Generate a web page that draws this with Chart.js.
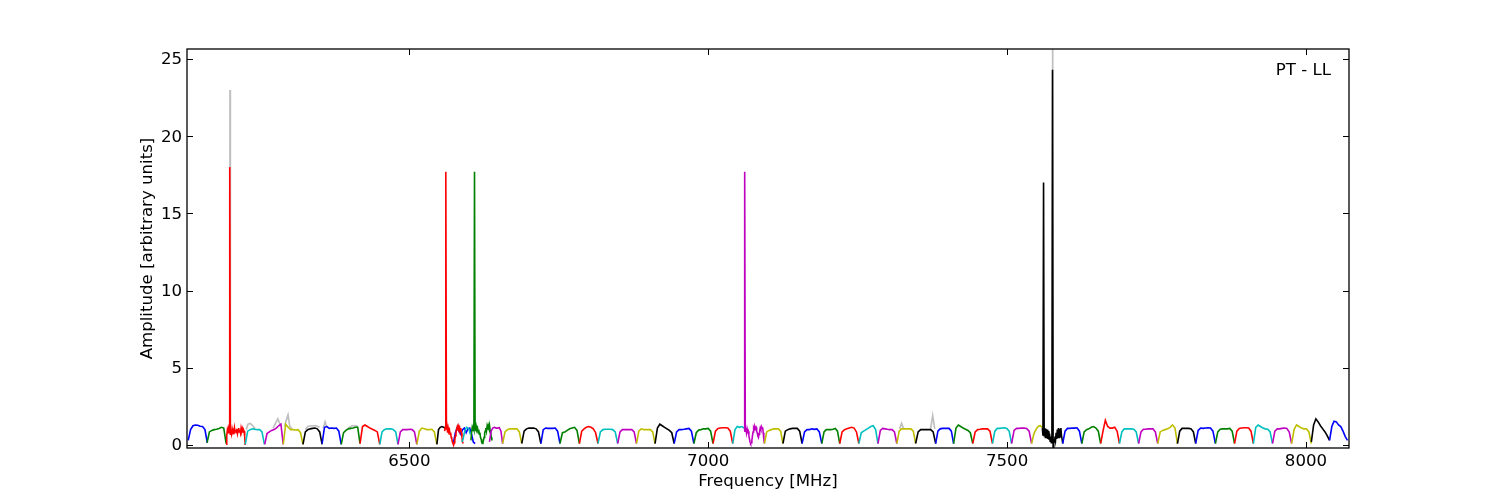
<!DOCTYPE html>
<html>
<head>
<meta charset="utf-8">
<script src="https://cdn.jsdelivr.net/npm/chart.js@4.4.1/dist/chart.umd.min.js"></script>
<style>
  html, body { margin: 0; padding: 0; background: #ffffff; }
  #wrap { width: 1500px; height: 500px; }
</style>
</head>
<body>
<div id="wrap"><canvas id="c" width="1500" height="500"></canvas></div>
<script>
// ---------------- data ----------------
const xTicks = [6500, 7000, 7500, 8000];
const yTicks = [0, 5, 10, 15, 20, 25];
const panelLabel = 'PT - LL';

// start frequency (MHz) and width (MHz) of each sub-band
const bandStart = [
  6130, 6161.5, 6193.5, 6225.5, 6258, 6289, 6322, 6354, 6386, 6417.5,
  6450.5, 6481, 6512.5, 6546, 6574, 6603, 6559, 6588, 6634, 6656,
  6688, 6720, 6752, 6784.5, 6815.5, 6848.5, 6880, 6911, 6943, 6976,
  7008, 7041, 7060, 7094, 7125, 7157, 7190, 7220, 7252, 7284,
  7315.5, 7347, 7380.5, 7410.5, 7442.5, 7475.5, 7507.5, 7541, 7559, 7593,
  7625, 7656.5, 7688, 7720, 7752, 7785, 7815.5, 7848.5, 7880.5, 7912,
  7944, 7976, 8009, 8039.5
];
const bandWidth = [
  32, 32, 32, 32, 31, 33, 32, 32, 31.5, 33,
  30.5, 31.5, 33.5, 14, 36, 35, 31, 14, 22, 32,
  32, 32, 32.5, 31, 33, 31.5, 31, 32, 33, 32,
  33, 19, 34, 31, 32, 33, 30, 32, 32, 31.5,
  31.5, 33.5, 30, 32, 33, 32, 33.5, 18, 34, 32,
  31.5, 31.5, 32, 32, 33, 30.5, 33, 32, 31.5, 32,
  32, 33, 30.5, 30
];
// amplitudes across each sub-band (evenly spaced channels)
const bandAmp = [
  [0.3, 1.0, 1.25, 1.3, 1.28, 1.22, 1.2, 1.0, 0.15],
  [0.15, 0.85, 0.95, 1.0, 1.03, 1.08, 1.15, 1.1, 0.1],
  [0.05, 0.6, 0.95, 0.75, 1.05, 0.8, 18.0, 0.7, 1.0, 0.75, 1.05, 0.85, 0.95, 0.7, 1.1, 0.85, 1.0,
   0.8, 1.05, 0.75, 0.95, 1.1, 0.85, 1.0, 0.8, 1.1, 0.9, 1.05, 0.8, 1.0, 0.9, 0.55, 0.0],
  [0.05, 0.9, 1.0, 1.05, 1.02, 1.0, 1.0, 0.85, 0.05],
  [0.05, 0.75, 0.85, 0.95, 1.0, 1.1, 1.25, 1.35, 0.05],
  [0.05, 1.35, 1.15, 1.0, 1.0, 0.98, 1.0, 0.8, 0.05],
  [0.05, 0.85, 1.0, 1.05, 1.08, 1.1, 1.05, 0.85, 0.05],
  [0.1, 1.15, 1.2, 1.08, 1.1, 1.08, 1.1, 0.9, 0.05],
  [0.05, 0.8, 0.95, 1.05, 1.08, 1.1, 1.15, 1.15, 0.1],
  [0.1, 1.2, 1.3, 1.2, 1.1, 1.02, 0.95, 0.85, 0.05],
  [0.05, 0.85, 1.0, 1.05, 1.05, 1.05, 1.0, 0.85, 0.05],
  [0.05, 0.85, 1.0, 1.0, 1.0, 1.02, 1.0, 0.85, 0.05],
  [0.05, 0.9, 1.1, 1.05, 1.0, 1.0, 1.02, 0.85, 0.05],
  [0.05, 1.0, 1.15, 1.2, 1.15, 1.1],
  [0.2, 0.8, 1.1, 0.9, 0.7, 1.0, 1.1, 0.8, 1.05, 1.1, 0.7, 0.2, 0.1],
  [0.3, 0.8, 1.1, 0.9, 1.15, 1.0, 17.7, 1.1, 0.9, 1.2, 1.0, 1.1, 0.8, 1.0, 0.7, 0.8, 0.5, 0.4,
   0.2, 0.1, 0.15, 0.3, 0.5, 0.8, 0.9, 1.1, 0.9, 1.2, 1.0, 1.25, 1.1, 1.3, 1.0, 0.8, 0.5, 0.3],
  [0.9, 1.15, 17.7, 1.0, 1.2, 0.8, 1.1, 0.9, 1.0, 0.7, 0.8, 0.5, 0.4, 0.2, 0.1, 0.0,
   0.15, 0.3, 0.6, 0.8, 1.0, 1.15, 0.95, 1.2, 1.05, 1.15, 0.9, 1.1, 0.8, 0.5, 0.2, 0.1],
  [0.2, 0.4, 0.8, 1.05, 1.15, 1.1, 1.0, 0.7],
  [0.2, 0.9, 1.1, 1.15, 1.1, 1.1, 1.12, 0.9, 0.1],
  [0.1, 0.85, 1.0, 1.05, 1.05, 1.05, 1.05, 0.85, 0.1],
  [0.1, 0.9, 1.05, 1.1, 1.1, 1.1, 1.05, 0.85, 0.1],
  [0.1, 1.0, 1.1, 1.08, 1.08, 1.08, 1.1, 0.9, 0.1],
  [0.1, 0.8, 0.85, 0.95, 1.05, 1.1, 1.15, 0.95, 0.1],
  [0.1, 0.9, 1.05, 1.15, 1.2, 1.15, 1.05, 0.8, 0.1],
  [0.1, 0.85, 1.0, 1.02, 1.02, 1.02, 1.0, 0.85, 0.1],
  [0.1, 0.85, 1.0, 1.0, 1.0, 1.0, 1.0, 0.85, 0.1],
  [0.1, 0.9, 1.05, 1.0, 1.0, 1.0, 1.0, 0.85, 0.1],
  [0.1, 1.1, 1.35, 1.25, 1.15, 1.05, 0.95, 0.8, 0.1],
  [0.1, 0.85, 1.0, 1.0, 1.02, 1.05, 1.08, 0.9, 0.1],
  [0.1, 0.8, 0.97, 1.0, 1.05, 1.05, 1.08, 0.9, 0.1],
  [0.1, 0.9, 1.08, 1.1, 1.12, 1.12, 1.1, 0.9, 0.1],
  [0.1, 1.0, 1.2, 1.15, 1.2, 1.1],
  [0.9, 17.7, 1.0, 1.1, 0.8, 1.05, 0.85, 0.9, 0.6, 0.4, 0.2, 0.1, 0.15, 0.3, 0.6, 0.85, 1.1,
   1.0, 1.2, 1.1, 1.15, 0.9, 0.8, 0.6, 0.5, 0.7, 0.9, 1.1, 1.0, 1.2, 1.1, 1.15, 0.8, 0.4, 0.1],
  [0.1, 0.85, 0.95, 1.0, 1.05, 1.05, 1.05, 0.9, 0.1],
  [0.1, 0.9, 1.0, 1.05, 1.08, 1.08, 1.08, 0.9, 0.1],
  [0.1, 0.85, 1.0, 1.0, 1.05, 1.02, 1.05, 0.85, 0.1],
  [0.1, 0.85, 1.0, 1.0, 1.0, 1.02, 1.08, 0.9, 0.1],
  [0.1, 0.85, 1.0, 1.05, 1.1, 1.15, 1.1, 0.85, 0.1],
  [0.1, 0.8, 0.9, 1.0, 1.1, 1.2, 1.25, 1.0, 0.1],
  [0.1, 0.95, 1.08, 1.05, 1.02, 1.0, 1.0, 0.85, 0.1],
  [0.1, 0.9, 1.05, 1.05, 1.05, 1.05, 1.05, 0.9, 0.1],
  [0.1, 0.85, 1.0, 1.0, 1.0, 1.0, 1.0, 0.85, 0.1],
  [0.1, 0.9, 1.05, 1.08, 1.08, 1.08, 1.08, 0.9, 0.1],
  [0.1, 1.1, 1.3, 1.2, 1.1, 1.02, 0.95, 0.8, 0.1],
  [0.1, 0.85, 1.0, 1.02, 1.05, 1.05, 1.05, 0.9, 0.1],
  [0.1, 0.9, 1.08, 1.08, 1.1, 1.12, 1.08, 0.9, 0.1],
  [0.1, 0.95, 1.08, 1.08, 1.1, 1.1, 1.08, 0.9, 0.1],
  [0.1, 0.7, 1.0, 1.2, 1.25, 1.15],
  [1.1, 0.6, 17.0, 0.6, 1.1, 0.5, 1.05, 0.45, 1.0, 0.4, 0.9, 0.35, 0.75, 0.25, 0.55, 0.15, 0.3,
   24.3, -0.19, 0.3, 0.2, 0.55, 0.3, 0.8, 0.4, 1.0, 0.45, 1.1, 0.5, 1.05, 0.55, 1.1, 0.6, 0.4, 0.1],
  [0.1, 0.9, 1.08, 1.08, 1.1, 1.1, 1.12, 0.9, 0.1],
  [0.1, 0.85, 1.0, 1.05, 1.15, 1.2, 1.1, 0.9, 0.1],
  [0.1, 0.9, 1.6, 1.2, 1.1, 1.1, 1.15, 0.9, 0.1],
  [0.1, 0.85, 1.05, 1.05, 1.05, 1.05, 1.02, 0.85, 0.1],
  [0.1, 0.85, 1.02, 1.02, 1.05, 1.05, 1.05, 0.85, 0.1],
  [0.1, 0.85, 0.95, 1.0, 1.05, 1.15, 1.3, 1.1, 0.1],
  [0.1, 0.9, 1.08, 1.08, 1.08, 1.08, 1.05, 0.85, 0.1],
  [0.1, 0.95, 1.1, 1.08, 1.1, 1.12, 1.1, 0.9, 0.1],
  [0.1, 0.85, 1.02, 1.05, 1.05, 1.05, 1.08, 0.9, 0.1],
  [0.1, 0.9, 1.08, 1.1, 1.12, 1.12, 1.1, 0.9, 0.1],
  [0.1, 1.15, 1.3, 1.2, 1.1, 1.05, 1.02, 0.85, 0.1],
  [0.1, 0.9, 1.05, 1.05, 1.08, 1.1, 1.08, 0.85, 0.1],
  [0.1, 1.0, 1.3, 1.2, 1.1, 1.05, 1.05, 0.85, 0.1],
  [0.2, 1.3, 1.7, 1.5, 1.25, 1.05, 0.85, 0.6, 0.3],
  [0.3, 1.2, 1.55, 1.5, 1.3, 1.2, 0.9, 0.55, 0.3]
];
// unflagged (raw) spectrum where it differs, drawn in grey behind (null = gap)
const grayFreq = [
  6199.5, 6200, 6200.5, null,
  6227, 6230, 6234, 6238, 6242, null,
  6272, 6276, 6280, 6284, null,
  6291, 6294, 6297, 6300, 6304, null,
  6326, 6330, 6337, 6344, 6350, null,
  6356, 6359, 6362, null,
  6398, 6404, 6410, 6414, null,
  6578, 6581, 6584, null,
  7320, 7323.5, 7327, null,
  7372, 7375.5, 7379, null,
  7575.5, 7576, 7576.5
];
const grayAmp = [
  0.9, 23.0, 0.9, null,
  1.0, 1.35, 1.4, 1.25, 1.05, null,
  1.1, 1.4, 1.7, 1.3, null,
  1.2, 1.6, 1.95, 1.2, 1.05, null,
  1.0, 1.2, 1.25, 1.25, 1.15, null,
  1.1, 1.5, 1.15, null,
  1.1, 1.25, 1.25, 1.2, null,
  1.0, 1.3, 1.0, null,
  1.05, 1.4, 1.05, null,
  1.05, 1.9, 1.05, null,
  1.0, 27.0, 1.0
];

// ---------------- styling ----------------
const cycleColors = ['#0000ff', '#008000', '#ff0000', '#00bfbf', '#bf00bf', '#bfbf00', '#000000'];
const FONT = { family: "'DejaVu Sans', sans-serif", size: 16.6 };

const datasets = [];
datasets.push({
  label: 'raw',
  data: grayFreq.map((f, i) => ({ x: f, y: grayAmp[i] })),
  borderColor: '#bfbfbf',
  borderWidth: 1.7,
  spanGaps: false,
  order: 5000,
  clip: 0
});
bandAmp.forEach((amps, i) => {
  const n = amps.length;
  datasets.push({
    label: 'band ' + i,
    data: amps.map((a, j) => ({ x: bandStart[i] + bandWidth[i] * j / (n - 1), y: a })),
    borderColor: cycleColors[i % cycleColors.length],
    borderWidth: 1.6,
    order: 1000 - i,
    clip: 0
  });
});

const framePlugin = {
  id: 'frame',
  afterDatasetsDraw(chart) {
    const { ctx, chartArea: a, scales } = chart;
    ctx.save();
    ctx.strokeStyle = '#000';
    ctx.lineWidth = 1.3;
    ctx.strokeRect(a.left, a.top, a.right - a.left, a.bottom - a.top);
    ctx.lineWidth = 1;
    const L = 6;
    ctx.beginPath();
    xTicks.forEach(v => {
      const p = Math.round(scales.x.getPixelForValue(v)) + 0.5;
      ctx.moveTo(p, a.bottom); ctx.lineTo(p, a.bottom - L);
      ctx.moveTo(p, a.top); ctx.lineTo(p, a.top + L);
    });
    yTicks.forEach(v => {
      const p = Math.round(scales.y.getPixelForValue(v)) + 0.5;
      ctx.moveTo(a.left, p); ctx.lineTo(a.left + L, p);
      ctx.moveTo(a.right, p); ctx.lineTo(a.right - L, p);
    });
    ctx.stroke();
    ctx.fillStyle = '#000';
    ctx.font = FONT.size + 'px ' + FONT.family;
    ctx.textAlign = 'right';
    ctx.textBaseline = 'middle';
    ctx.fillText(panelLabel, a.right - 18, a.top + 22);
    ctx.restore();
  }
};

new Chart(document.getElementById('c'), {
  type: 'line',
  data: { datasets },
  options: {
    responsive: false,
    animation: false,
    parsing: true,
    plugins: { legend: { display: false }, tooltip: { enabled: false }, title: { display: false } },
    elements: { point: { radius: 0 }, line: { tension: 0 } },
    layout: { padding: { left: 130, top: 49, right: 151, bottom: 0 } },
    scales: {
      x: {
        type: 'linear',
        min: 6128, max: 8072,
        afterBuildTicks: s => { s.ticks = xTicks.map(v => ({ value: v })); },
        afterFit: s => { s.height = 52; },
        grid: { display: false, drawTicks: false },
        border: { display: false },
        ticks: { color: '#000', font: FONT, padding: 4, maxRotation: 0, autoSkip: false, callback: v => String(v) },
        title: { display: true, text: 'Frequency [MHz]', color: '#000', font: FONT, padding: { top: 0, bottom: 8 } }
      },
      y: {
        type: 'linear',
        min: -0.19, max: 25.65,
        afterBuildTicks: s => { s.ticks = yTicks.map(v => ({ value: v })); },
        afterFit: s => { s.width = 57; },
        grid: { display: false, drawTicks: false },
        border: { display: false },
        ticks: { color: '#000', font: FONT, padding: 5, autoSkip: false, labelOffset: 1, callback: v => String(v) },
        title: { display: true, text: 'Amplitude [arbitrary units]', color: '#000', font: FONT, padding: { top: 8, bottom: 0 } }
      }
    }
  },
  plugins: [framePlugin]
});
</script>
</body>
</html>
